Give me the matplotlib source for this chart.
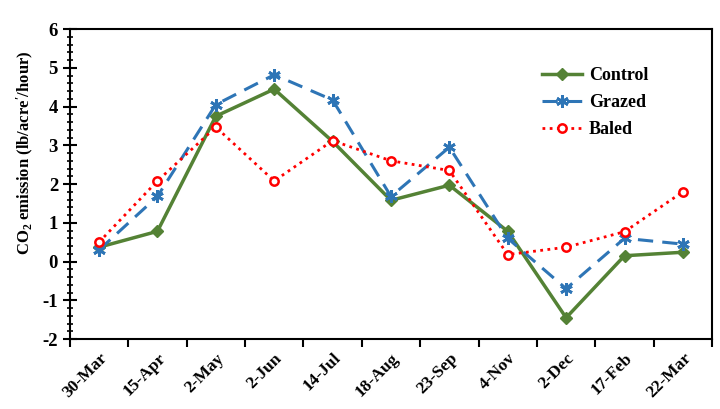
import matplotlib.pyplot as plt
from matplotlib.ticker import MultipleLocator

dates = ["30-Mar", "15-Apr", "2-May", "2-Jun", "14-Jul", "18-Aug",
         "23-Sep", "4-Nov", "2-Dec", "17-Feb", "22-Mar"]
control = [0.37, 0.78, 3.75, 4.45, 3.10, 1.58, 1.97, 0.78, -1.45, 0.15, 0.24]
grazed = [0.30, 1.68, 4.05, 4.82, 4.17, 1.68, 2.95, 0.60, -0.70, 0.60, 0.45]
baled = [0.50, 2.08, 3.47, 2.08, 3.12, 2.60, 2.35, 0.18, 0.37, 0.77, 1.80]

plt.rcParams["font.family"] = ["Liberation Serif", "DejaVu Serif"]
plt.rcParams["font.weight"] = "bold"
plt.rcParams["axes.unicode_minus"] = False
plt.rcParams["mathtext.fontset"] = "custom"
plt.rcParams["mathtext.rm"] = "Liberation Serif:bold"
plt.rcParams["mathtext.it"] = "Liberation Serif:bold"

fig, ax = plt.subplots(figsize=(7.2, 4.09), dpi=100)
fig.subplots_adjust(left=0.097, right=0.989, top=0.929, bottom=0.171)

x = list(range(len(dates)))
ax.plot(x, control, color="#548235", lw=2.5, marker="D", ms=6,
        label="Control")
ax.plot(x, grazed, color="#2E75B6", lw=2.2, ls=(0, (5, 3)),
        marker=(6, 2, 0), ms=9, mew=2, label="Grazed")
ax.plot(x, baled, color="#FF0000", lw=2, ls=(0, (1, 1.6)),
        marker="o", ms=6, mfc="white", mew=1.8, label="Baled")

ax.set_xlim(-0.5, len(dates) - 0.5)
ax.set_ylim(-2, 6)
ax.yaxis.set_major_locator(MultipleLocator(1))
ax.yaxis.set_minor_locator(MultipleLocator(0.2))
ax.set_xticks([i - 0.5 for i in range(len(dates) + 1)])
ax.set_xticklabels([])
ax.set_xticks(x, minor=True)
ax.set_xticklabels(dates, minor=True, rotation=45, ha="right",
                   rotation_mode="anchor", fontsize=12.5, fontweight="bold")
ax.tick_params(axis="x", which="major", direction="out", length=6, width=1.5)
ax.tick_params(axis="x", which="minor", length=0, pad=8)
ax.tick_params(axis="y", which="major", direction="inout", length=10,
               width=1.5, labelsize=13.5)
ax.tick_params(axis="y", which="minor", direction="inout", length=5,
               width=1.2)
for s in ax.spines.values():
    s.set_linewidth(1.5)

ax.set_ylabel("CO$_2$ emission (lb/acre$^{\\prime}$/hour)", fontsize=12,
              fontweight="bold")
ax.yaxis.set_label_coords(-0.052, 0.6)

ax.legend(loc="upper left", bbox_to_anchor=(0.71, 0.93), frameon=False,
          fontsize=13, handlelength=2.2, handletextpad=0.4,
          labelspacing=0.55)

fig.savefig("out.png", dpi=100)
